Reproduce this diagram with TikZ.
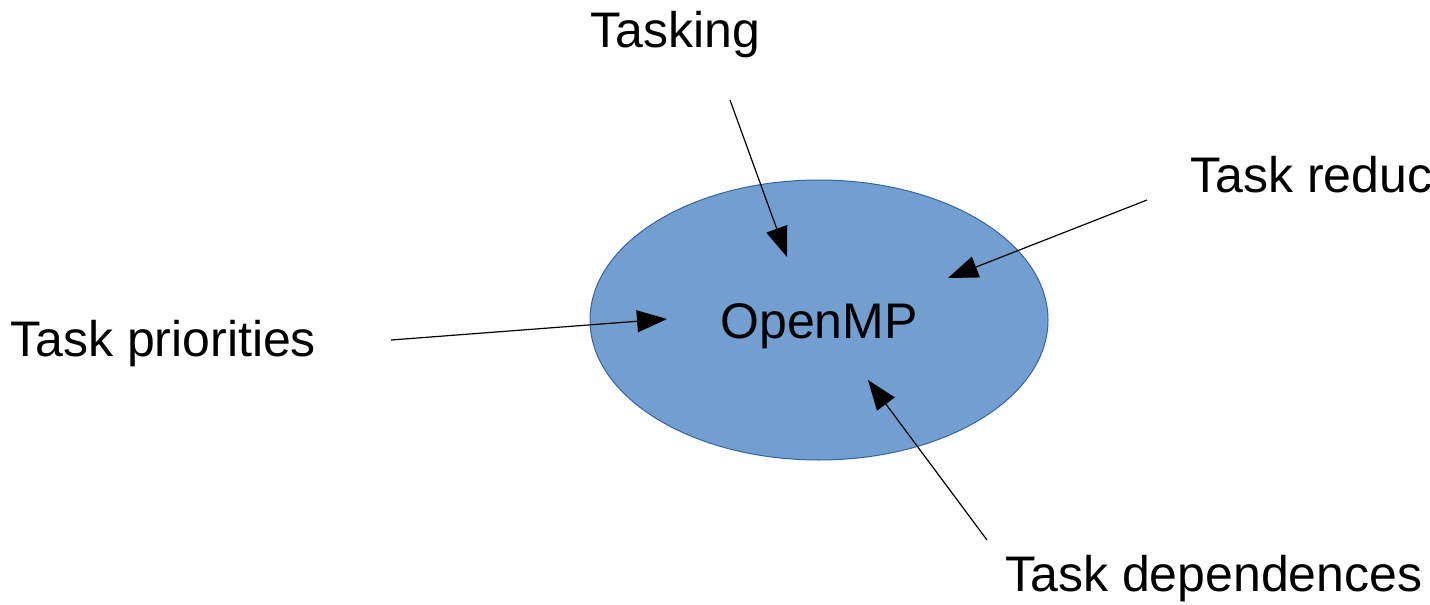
\documentclass[tikz,border=0pt]{standalone}
\usepackage{fontspec}
\setmainfont{Liberation Sans}
\usetikzlibrary{arrows.meta,shapes.geometric}
\definecolor{ellfill}{RGB}{114,159,207}
\definecolor{elldraw}{RGB}{52,101,164}
\begin{document}
\begin{tikzpicture}[x=0.5pt,y=-0.5pt,
  lbl/.style={anchor=base west,inner sep=0pt,font=\fontsize{25}{30}\selectfont},
  arr/.style={draw=black,line width=0.6pt,-{Triangle[length=15pt,width=11pt]}}]
\useasboundingbox (0,0) rectangle (1430,605);
\node[draw=elldraw,line width=0.5pt,fill=ellfill,ellipse,minimum width=229pt,minimum height=140pt,inner sep=0pt] (omp) at (819,320) {};
\node[lbl] (om) at (720,338) {OpenMP};
\node[lbl] (tk) at (590,47) {Tasking};
\node[lbl] (tr) at (1190,192) {Task reduc};
\node[lbl] (tp) at (10,356) {Task priorities};
\node[lbl] (td) at (1005,591) {Task dependences};
\coordinate (tkS) at (730,100);
\coordinate (tkE) at (787,257);
\coordinate (trS) at (1147,200);
\coordinate (trE) at (948,278);
\coordinate (tpS) at (391,340);
\coordinate (tpE) at (667,319);
\coordinate (tdS) at (987,540);
\coordinate (tdE) at (868,380);
\draw[arr] (tkS) -- (tkE);
\draw[arr] (trS) -- (trE);
\draw[arr] (tpS) -- (tpE);
\draw[arr] (tdS) -- (tdE);
\end{tikzpicture}
\end{document}
